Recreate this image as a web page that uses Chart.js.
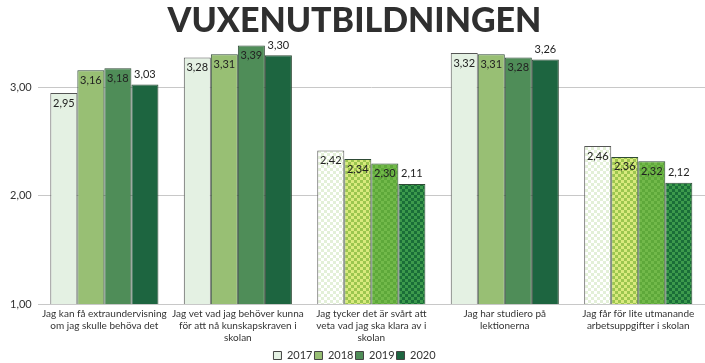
<!DOCTYPE html>
<html>
<head>
<meta charset="utf-8">
<script src="https://cdn.jsdelivr.net/npm/chart.js@4.4.0/dist/chart.umd.min.js"></script>
<style>
  html, body { margin: 0; padding: 0; background: #fff; }
  #wrap { width: 705px; height: 363px; }
</style>
</head>
<body>
<div id="wrap"><canvas id="chart" width="705" height="363"></canvas></div>
<script>
const categories = [
  ["Jag kan få extraundervisning", "om jag skulle behöva det"],
  ["Jag vet vad jag behöver kunna", "för att nå kunskapskraven i", "skolan"],
  ["Jag tycker det är svårt att", "veta vad jag ska klara av i", "skolan"],
  ["Jag har studiero på", "lektionerna"],
  ["Jag får för lite utmanande", "arbetsuppgifter i skolan"]
];
const years = ["2017", "2018", "2019", "2020"];
const values2017 = [2.95, 3.28, 2.42, 3.32, 2.46];
const values2018 = [3.16, 3.31, 2.34, 3.31, 2.36];
const values2019 = [3.18, 3.39, 2.30, 3.28, 2.32];
const values2020 = [3.03, 3.30, 2.11, 3.26, 2.12];
const yTicks = [1, 2, 3];

// solid colours and the checkered ones used for groups 3 and 5
const solid = ["#e4f1e3", "#98bf74", "#4f8d58", "#1d6540"];
const checkA = ["#ffffff", "#d9ea7e", "#5ea83a", "#1a6e38"];
const checkB = ["#e3f0d8", "#9cc64f", "#72b94a", "#3c9a4c"];
const checkered = [2, 4];

function makeChecker(a, b) {
  const c = document.createElement("canvas");
  c.width = 6; c.height = 6;
  const g = c.getContext("2d");
  g.fillStyle = a; g.fillRect(0, 0, 6, 6);
  g.fillStyle = b; g.fillRect(0, 0, 3, 3); g.fillRect(3, 3, 3, 3);
  return g.createPattern(c, "repeat");
}

const ctx = document.getElementById("chart").getContext("2d");

function colorsFor(i) {
  const pat = makeChecker(checkA[i], checkB[i]);
  return categories.map((c, k) => checkered.includes(k) ? pat : solid[i]);
}

const series = [values2017, values2018, values2019, values2020];

const valueLabels = {
  id: "valueLabels",
  afterDatasetsDraw(chart) {
    const c = chart.ctx;
    c.save();
    c.font = "11px Lato";
    c.fillStyle = "#222";
    c.textAlign = "center";
    c.textBaseline = "middle";
    chart.data.datasets.forEach((ds, di) => {
      chart.getDatasetMeta(di).data.forEach((bar, i) => {
        const txt = ds.data[i].toFixed(2).replace(".", ",");
        const y = di === 3 ? bar.y - 10 : bar.y + 10;
        c.fillText(txt, bar.x, y);
      });
    });
    c.restore();
  }
};

new Chart(ctx, {
  type: "bar",
  data: {
    labels: categories,
    datasets: series.map((vals, i) => ({
      label: years[i],
      data: vals,
      backgroundColor: colorsFor(i),
      borderColor: i === 0 ? "#555" : "#2e4a35",
      borderWidth: 1,
      categoryPercentage: 0.81,
      barPercentage: 1.0
    }))
  },
  options: {
    responsive: false,
    animation: false,
    layout: { padding: { left: 4, right: 0, top: 0, bottom: 1 } },
    scales: {
      x: {
        grid: { display: false, drawTicks: false },
        border: { display: false },
        ticks: {
          color: "#333",
          font: { family: "Lato", size: 10, lineHeight: 1.2 },
          maxRotation: 0,
          autoSkip: false,
          padding: 4
        }
      },
      y: {
        min: 1,
        max: 3.4,
        afterBuildTicks: (axis) => {
          axis.ticks = yTicks.map(v => ({ value: v }));
        },
        grid: { color: "#c8c8c8", drawTicks: false },
        border: { display: false },
        ticks: {
          color: "#333",
          font: { family: "Lato", size: 11 },
          padding: 6,
          callback: v => v.toFixed(2).replace(".", ",")
        }
      }
    },
    plugins: {
      title: {
        display: true,
        text: "VUXENUTBILDNINGEN",
        color: "#2f2f2f",
        font: { family: "Lato", size: 34, weight: "900", lineHeight: 1.1 },
        padding: { top: 2, bottom: 5 }
      },
      legend: {
        position: "bottom",
        maxHeight: 14,
        labels: {
          color: "#333",
          font: { family: "Lato", size: 11 },
          boxWidth: 8,
          boxHeight: 8,
          padding: 2,
          generateLabels: (chart) => chart.data.datasets.map((ds, i) => ({
            text: ds.label,
            fillStyle: solid[i],
            strokeStyle: "#444",
            lineWidth: 1,
            datasetIndex: i,
            fontColor: "#333"
          }))
        }
      },
      tooltip: { enabled: false }
    }
  },
  plugins: [valueLabels]
});
</script>
</body>
</html>
